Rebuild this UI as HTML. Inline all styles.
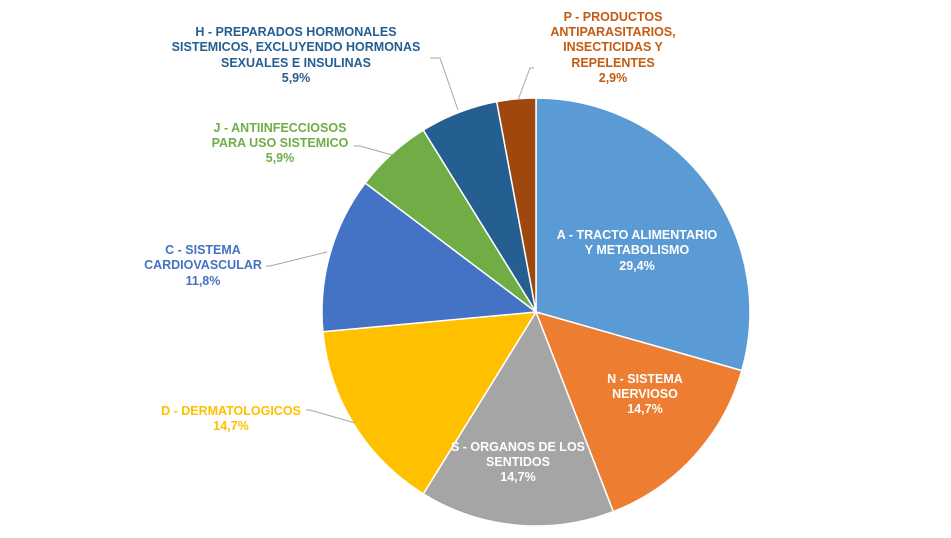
<!DOCTYPE html>
<html><head><meta charset="utf-8"><style>
body{margin:0;background:#fff;}
svg text{font-family:"Liberation Sans",Arial,sans-serif;font-size:12.5px;font-weight:bold;}
</style></head><body>
<svg width="951" height="533" viewBox="0 0 951 533" xmlns="http://www.w3.org/2000/svg">
<rect width="951" height="533" fill="#fff"/>
<g stroke="#fff" stroke-width="1.5" stroke-linejoin="round">
<path d="M536,312 L536,98 A214,214 0 0 1 741.8,370.6 Z" fill="#5b9bd5"/>
<path d="M536,312 L741.8,370.6 A214,214 0 0 1 613.3,511.6 Z" fill="#ed7d31"/>
<path d="M536,312 L613.3,511.6 A214,214 0 0 1 423.3,493.9 Z" fill="#a5a5a5"/>
<path d="M536,312 L423.3,493.9 A214,214 0 0 1 322.9,331.7 Z" fill="#ffc000"/>
<path d="M536,312 L322.9,331.7 A214,214 0 0 1 365.2,183.0 Z" fill="#4472c4"/>
<path d="M536,312 L365.2,183.0 A214,214 0 0 1 423.3,130.1 Z" fill="#70ad47"/>
<path d="M536,312 L423.3,130.1 A214,214 0 0 1 496.7,101.6 Z" fill="#255e91"/>
<path d="M536,312 L496.7,101.6 A214,214 0 0 1 536,98 Z" fill="#9e480e"/>
</g>
<g fill="none" stroke="#a6a6a6" stroke-width="1">
<polyline points="458,110 440,58 430,58"/>
<polyline points="392,155 360,146 354,146"/>
<polyline points="327,252 270,266 266,266"/>
<polyline points="355,423 310,410 306,410"/>
<polyline points="518,100 530,68 534,68"/>
</g>
<g text-anchor="middle">
<text fill="#fff"><tspan x="637" y="239">A - TRACTO ALIMENTARIO</tspan><tspan x="637" y="254">Y METABOLISMO</tspan><tspan x="637" y="270">29,4%</tspan></text>
<text fill="#fff"><tspan x="645" y="383">N - SISTEMA</tspan><tspan x="645" y="398">NERVIOSO</tspan><tspan x="645" y="413">14,7%</tspan></text>
<text fill="#fff"><tspan x="518" y="451">S - ORGANOS DE LOS</tspan><tspan x="518" y="466">SENTIDOS</tspan><tspan x="518" y="481">14,7%</tspan></text>
<text fill="#ffc000"><tspan x="231" y="415">D - DERMATOLOGICOS</tspan><tspan x="231" y="430">14,7%</tspan></text>
<text fill="#4472c4"><tspan x="203" y="254">C - SISTEMA</tspan><tspan x="203" y="269">CARDIOVASCULAR</tspan><tspan x="203" y="285">11,8%</tspan></text>
<text fill="#70ad47"><tspan x="280" y="132">J - ANTIINFECCIOSOS</tspan><tspan x="280" y="147">PARA USO SISTEMICO</tspan><tspan x="280" y="162">5,9%</tspan></text>
<text fill="#255e91"><tspan x="296" y="36">H - PREPARADOS  HORMONALES</tspan><tspan x="296" y="51">SISTEMICOS, EXCLUYENDO  HORMONAS</tspan><tspan x="296" y="67">SEXUALES  E INSULINAS</tspan><tspan x="296" y="82">5,9%</tspan></text>
<text fill="#c55a11"><tspan x="613" y="21">P - PRODUCTOS</tspan><tspan x="613" y="36">ANTIPARASITARIOS,</tspan><tspan x="613" y="51">INSECTICIDAS  Y</tspan><tspan x="613" y="67">REPELENTES</tspan><tspan x="613" y="82">2,9%</tspan></text>
</g>
</svg>
</body></html>
